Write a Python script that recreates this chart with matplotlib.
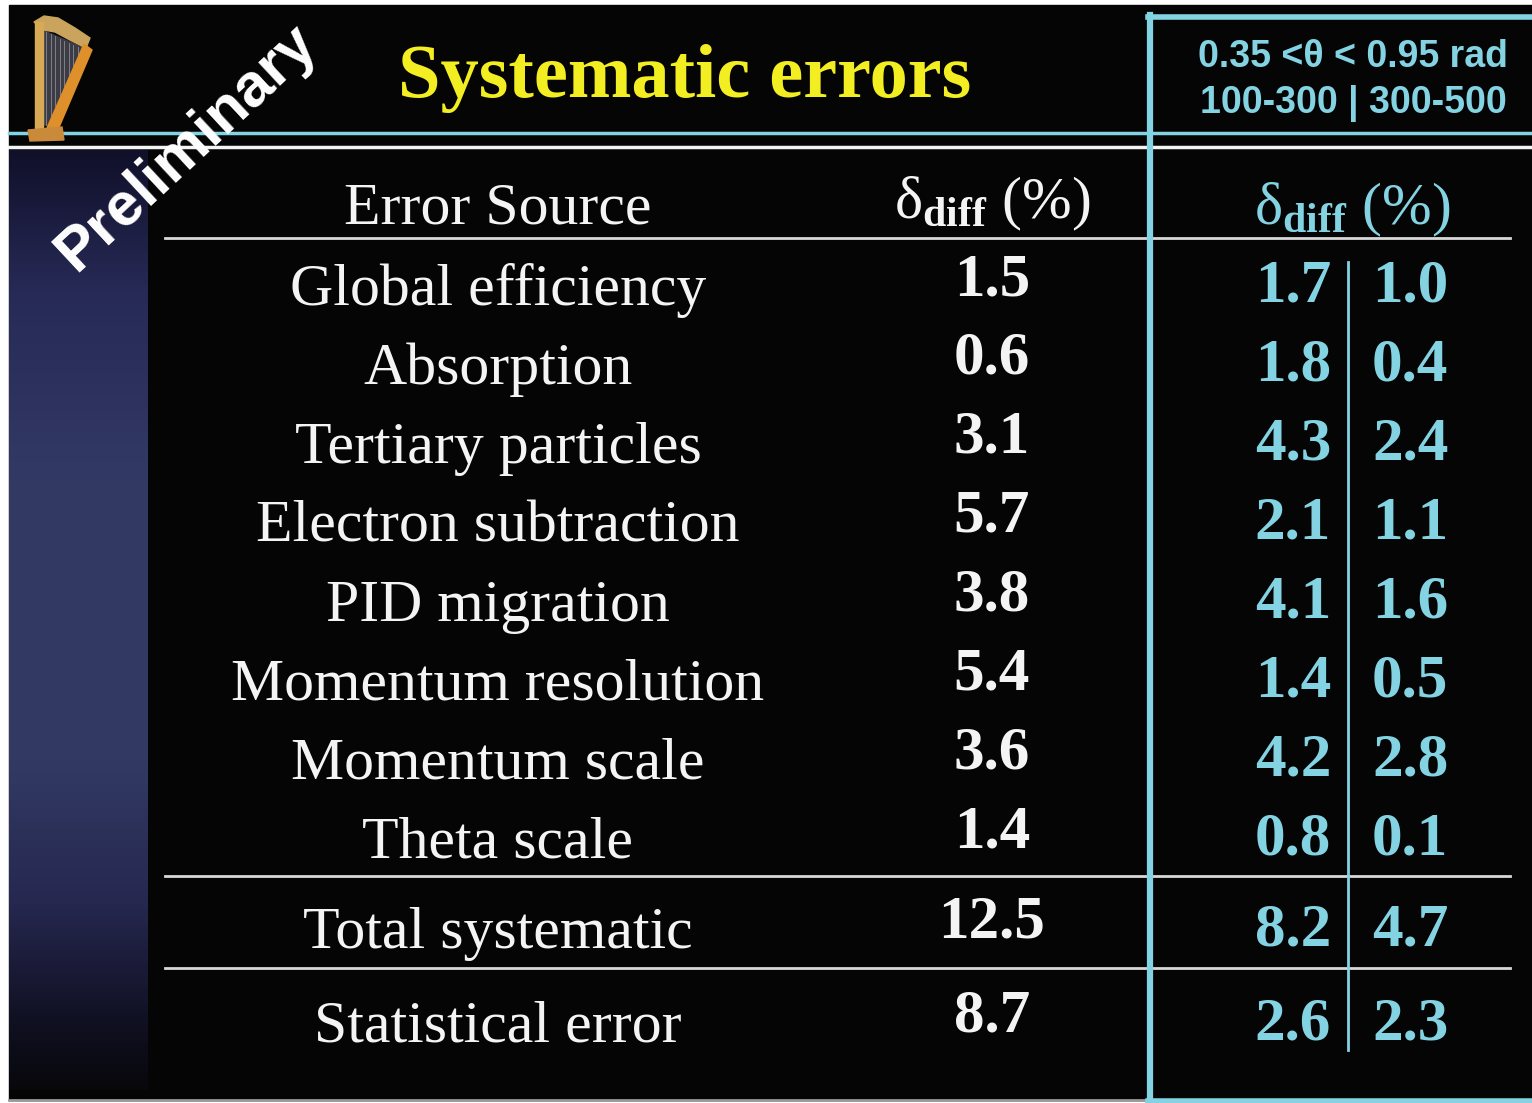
import matplotlib
matplotlib.use("Agg")
import matplotlib.pyplot as plt
import numpy as np
from matplotlib.patches import Polygon, Rectangle
from matplotlib.colors import LinearSegmentedColormap

# ---------------- data ----------------
title = "Systematic errors"
watermark = "Preliminary"
range_header = ["0.35 <θ < 0.95 rad", "100-300 | 300-500"]
col_headers = ["Error Source", r"δ$_{\mathbf{diff}}$ (%)"]
sources = ["Global efficiency", "Absorption", "Tertiary particles",
           "Electron subtraction", "PID migration", "Momentum resolution",
           "Momentum scale", "Theta scale"]
delta_diff = ["1.5", "0.6", "3.1", "5.7", "3.8", "5.4", "3.6", "1.4"]
delta_low = ["1.7", "1.8", "4.3", "2.1", "4.1", "1.4", "4.2", "0.8"]
delta_high = ["1.0", "0.4", "2.4", "1.1", "1.6", "0.5", "2.8", "0.1"]
summary_labels = ["Total systematic", "Statistical error"]
summary_diff = ["12.5", "8.7"]
summary_low = ["8.2", "2.6"]
summary_high = ["4.7", "2.3"]

# ---------------- style ----------------
W, H = 1532, 1103
CYAN = "#84d3e3"
YELLOW = "#f3ee22"
WHITE = "#f4f4f4"
SERIF = ["Liberation Serif", "DejaVu Serif"]
SANS = ["Liberation Sans", "DejaVu Sans"]
plt.rcParams["mathtext.fontset"] = "custom"
plt.rcParams["mathtext.rm"] = "Liberation Serif"
plt.rcParams["mathtext.bf"] = "Liberation Serif:bold"
plt.rcParams["mathtext.it"] = "Liberation Serif:italic"

fig = plt.figure(figsize=(W / 100, H / 100), dpi=100, facecolor="white")
ax = fig.add_axes([0, 0, 1, 1])
ax.set_xlim(0, W)
ax.set_ylim(H, 0)
ax.axis("off")

# black slide
ax.add_patch(Rectangle((9, 5), W - 9, 1095, color="#050505", zorder=0))
ax.plot([9, W], [1100, 1100], color="#9a9a9a", lw=2, zorder=1)

# left gradient panel
grad = np.linspace(0, 1, 256)
cmap = LinearSegmentedColormap.from_list(
    "g", [(0, "#10102a"), (0.15, "#272a56"), (0.35, "#323a64"),
          (0.65, "#323a64"), (0.8, "#262850"), (0.93, "#101022"),
          (1.0, "#08080c")])
ax.imshow(grad[:, None], cmap=cmap, aspect="auto",
          extent=[9, 148, 1090, 150], zorder=1)

# header rules
ax.plot([9, W], [133, 133], color=CYAN, lw=2.5, zorder=3)
ax.plot([9, W], [147, 147], color=WHITE, lw=2.5, zorder=3)

# cyan box on the right
ax.plot([1150, 1150], [15, 1101], color=CYAN, lw=4.5, zorder=4)
ax.plot([1148, W], [17, 17], color=CYAN, lw=4, zorder=4)
ax.plot([1148, W], [1101, 1101], color=CYAN, lw=4, zorder=4)

# harp (decorative)
ax.add_patch(Polygon([[42, 30], [84, 48], [50, 125], [44, 125]],
                     closed=True, color="#3c3c46", zorder=4))
for k in range(8):
    xs = 46 + k * 4.5
    ax.plot([xs, xs], [32 + k * 2.2, 125 - k * 9.5], color="#8a8a90",
            lw=0.6, zorder=4)
ax.add_patch(Polygon([[34, 22], [44, 16], [58, 18], [75, 28], [90, 38],
                      [86, 48], [70, 40], [55, 32], [44, 30]],
                     closed=True, color="#caa45c", zorder=5))
ax.add_patch(Polygon([[84, 44], [92, 50], [57, 132], [47, 128]],
                     closed=True, color="#e0902a", zorder=5))
ax.add_patch(Rectangle((35, 22), 8, 108, color="#d8aa55", zorder=5))
ax.add_patch(Polygon([[28, 130], [62, 127], [64, 140], [30, 141]],
                     closed=True, color="#c98a3a", zorder=5))

# title
ax.text(685, 97, title, color=YELLOW, fontsize=55, fontweight="bold",
        family=SERIF, ha="center", va="baseline", zorder=6)

# watermark
ax.text(187, 148, watermark, color="white", fontsize=44, fontweight="bold",
        family=SANS, ha="center", va="center", rotation=43,
        rotation_mode="anchor", zorder=7)

# top-right range header
ax.text(1353, 67, range_header[0], color=CYAN, fontsize=27,
        fontweight="bold", family=SANS, ha="center", va="baseline", zorder=6)
ax.text(1353, 113, range_header[1], color=CYAN, fontsize=27,
        fontweight="bold", family=SANS, ha="center", va="baseline", zorder=6)

# column headers
ax.text(498, 224, col_headers[0], color=WHITE, fontsize=43, family=SERIF,
        ha="center", va="baseline", zorder=6)
ax.text(992, 218, col_headers[1], color=WHITE, fontsize=43, family=SERIF,
        ha="center", va="baseline", zorder=6)
ax.text(1352, 224, col_headers[1], color=CYAN, fontsize=43, family=SERIF,
        ha="center", va="baseline", zorder=6)

# table rules
for y in (238, 876, 968):
    ax.plot([165, 1147], [y, y], color="#d8d8d8", lw=2, zorder=3)
    ax.plot([1153, 1510], [y, y], color="#d8d8d8", lw=2, zorder=3)

# divider in right column
ax.plot([1348, 1348], [262, 1050], color=CYAN, lw=2, zorder=3)


def draw_row(yb, label, d, lo, hi):
    ax.text(498, yb, label, color=WHITE, fontsize=43, family=SERIF,
            ha="center", va="baseline", zorder=6)
    ax.text(992, yb - 10, d, color=WHITE, fontsize=44, fontweight="bold",
            family=SERIF, ha="center", va="baseline", zorder=6)
    ax.text(1331, yb - 3, lo, color=CYAN, fontsize=44, fontweight="bold",
            family=SERIF, ha="right", va="baseline", zorder=6)
    ax.text(1372, yb - 3, hi, color=CYAN, fontsize=44, fontweight="bold",
            family=SERIF, ha="left", va="baseline", zorder=6)


row0, step = 305, 78.9
for i, (s, d, lo, hi) in enumerate(zip(sources, delta_diff, delta_low, delta_high)):
    draw_row(row0 + i * step, s, d, lo, hi)

sum_base = [948, 1042]
for yb, s, d, lo, hi in zip(sum_base, summary_labels, summary_diff,
                            summary_low, summary_high):
    draw_row(yb, s, d, lo, hi)

fig.savefig("out.png", dpi=100, facecolor="white")
